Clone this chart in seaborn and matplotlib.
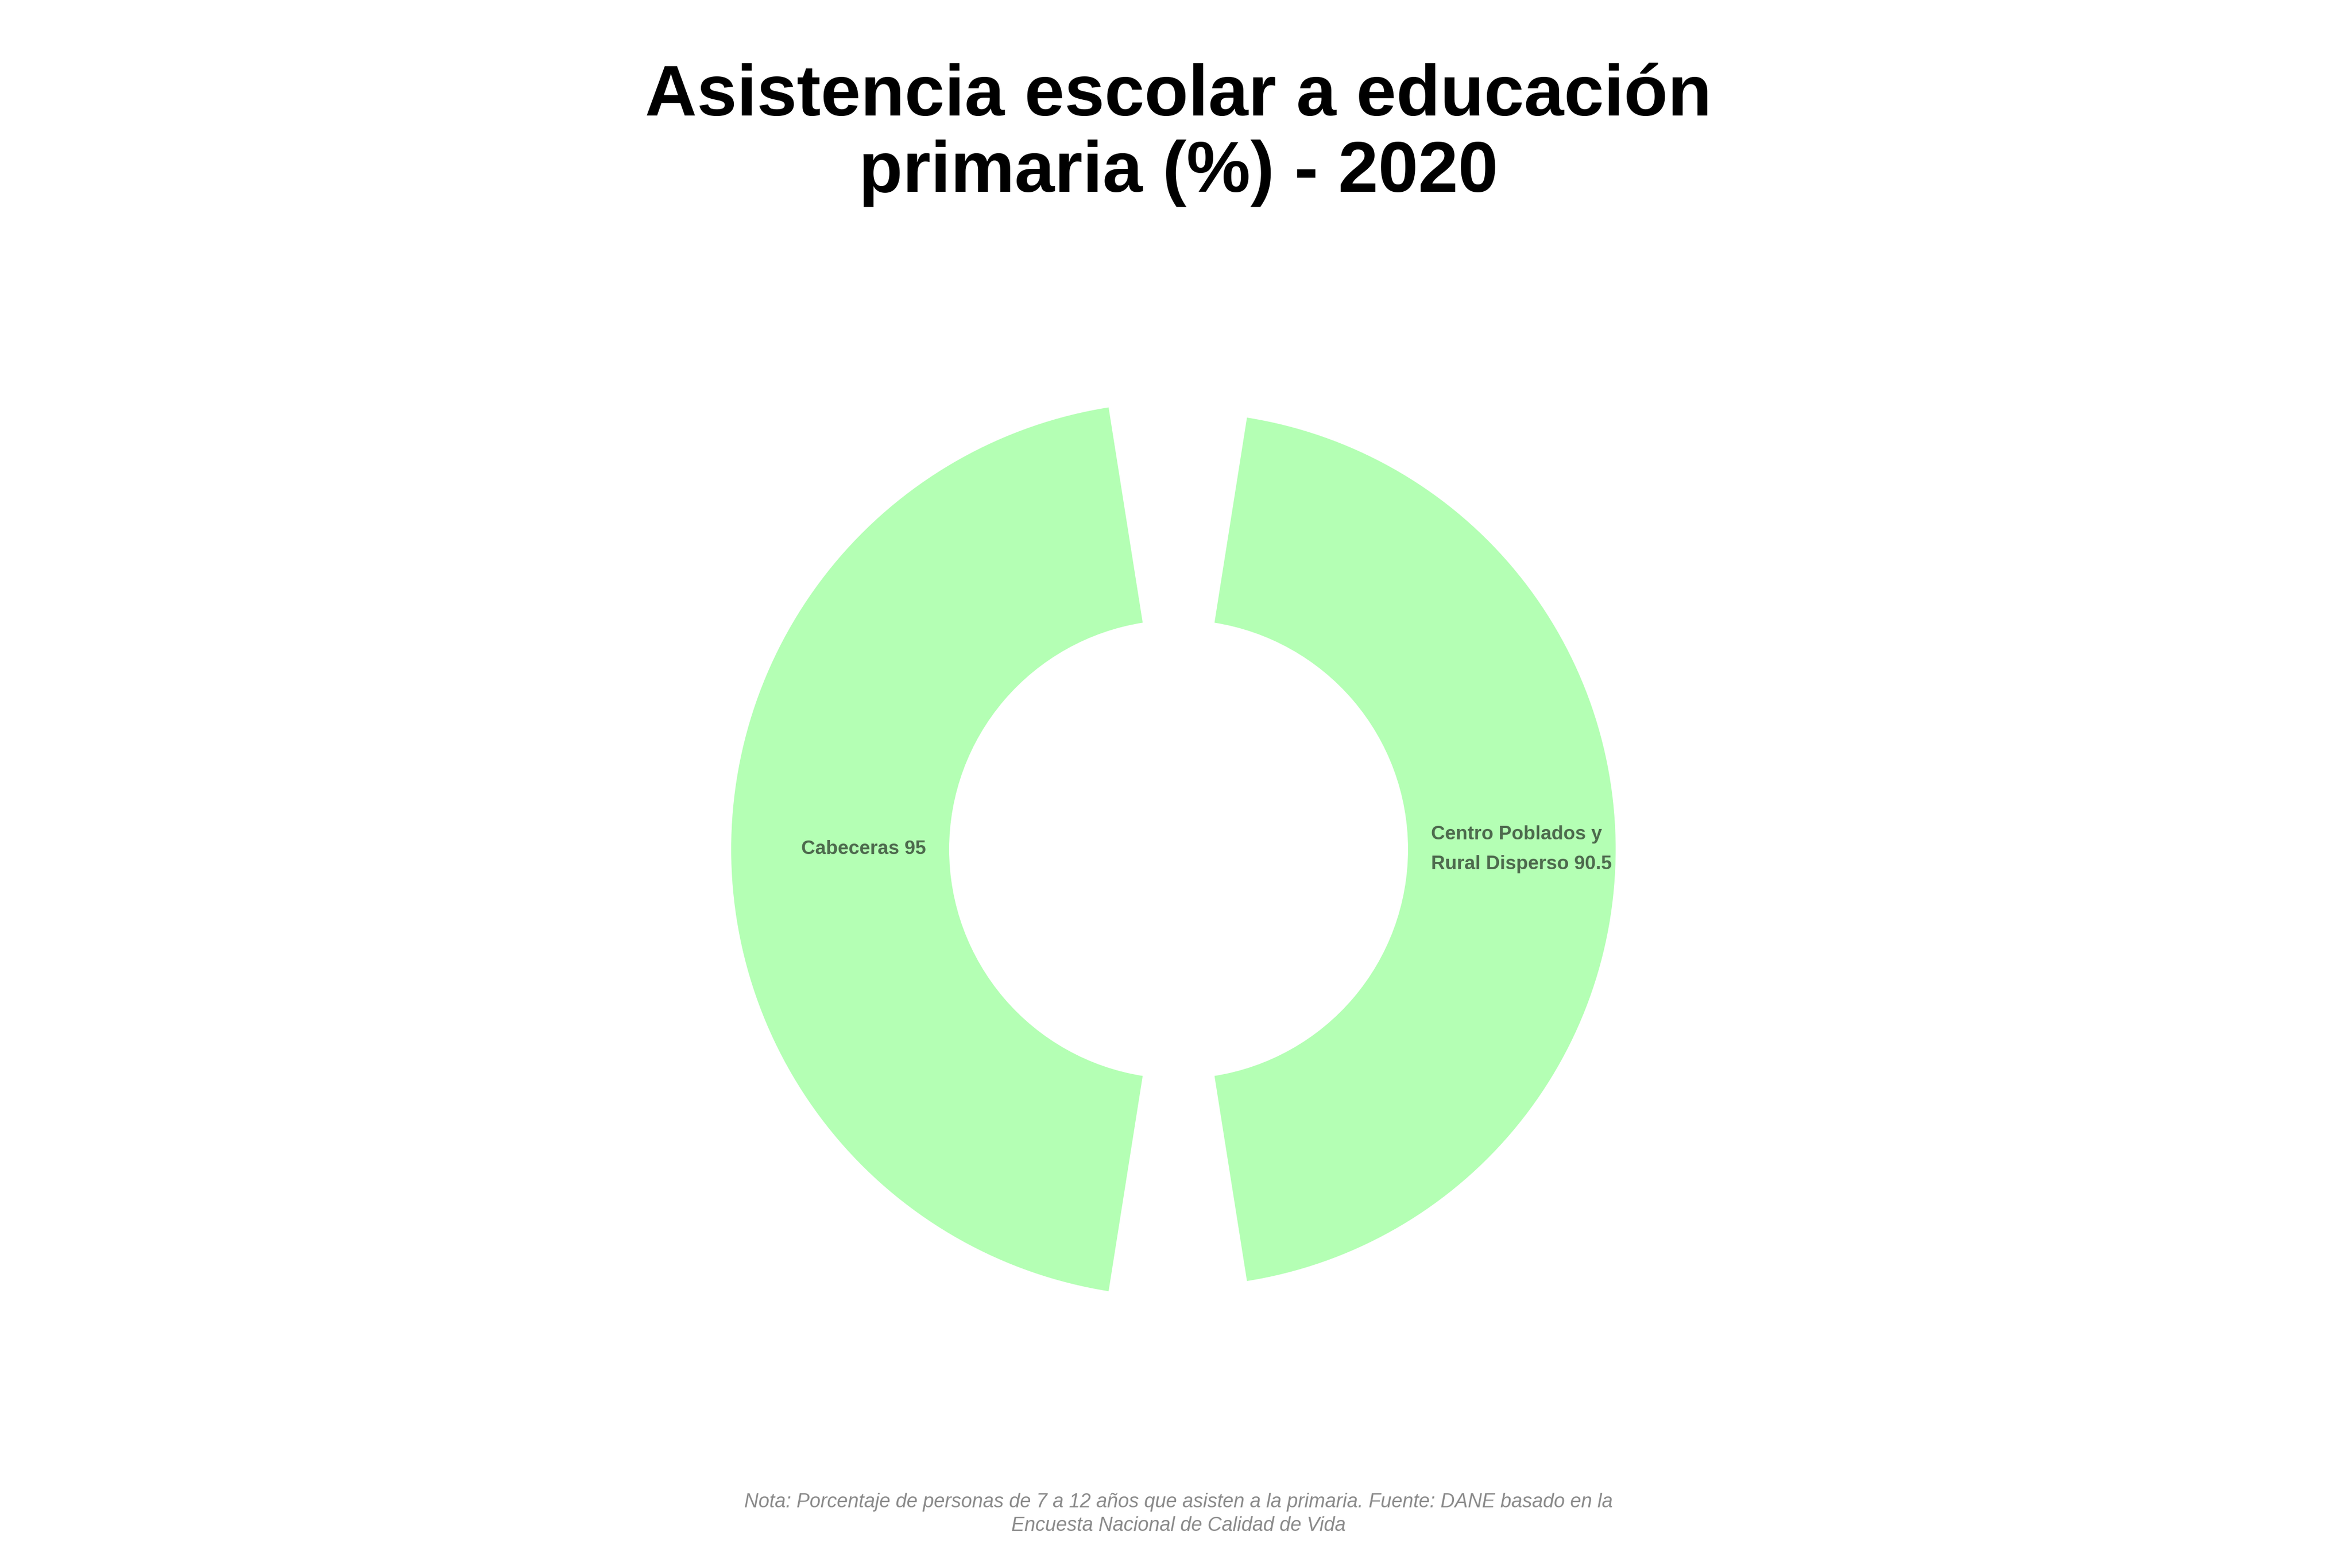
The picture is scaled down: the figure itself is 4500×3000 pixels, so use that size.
import numpy as np
import seaborn as sns
import matplotlib.pyplot as plt

# datos
categorias = ['Cabeceras', 'Centro Poblados y\nRural Disperso']
valores = [95, 90.5]

titulo = 'Asistencia escolar a educación\nprimaria (%) - 2020'
nota = ('Nota: Porcentaje de personas de 7 a 12 años que asisten a la primaria. Fuente: DANE basado en la\n'
        'Encuesta Nacional de Calidad de Vida')

sns.set_theme(style='white')
plt.rcParams['font.family'] = ['Liberation Sans', 'DejaVu Sans']

color_barra = '#b4ffb4'
color_texto = '#4d6a4d'

fig = plt.figure(figsize=(15, 10), dpi=300)
fig.patch.set_facecolor('white')

# eje polar: centro en (2255, 1625) px, radio 878 px
ax = fig.add_axes([0.306, 0.1657, 0.3902, 0.5853], projection='polar')
ax.set_theta_offset(np.pi)
ax.set_theta_direction(-1)

n = len(categorias)
angulos = np.linspace(0, 2 * np.pi, n, endpoint=False)
ancho = 2 * np.pi / n * 0.9
hueco = 100

ax.bar(angulos, valores, width=ancho, bottom=hueco, color=color_barra, linewidth=0, align='center')
ax.set_ylim(0, 200)
ax.set_axis_off()

for ang, cat, val in zip(angulos, categorias, valores):
    ha = 'right' if np.isclose(ang, 0) else 'left'
    ax.text(ang, hueco + 10, f'{cat} {val:g}', ha=ha, va='center', multialignment='left',
            fontsize=8.9, fontweight='bold', color=color_texto, linespacing=1.8)

fig.text(0.501, 0.914, titulo, ha='center', va='center', fontsize=33, fontweight='bold',
         color='black', linespacing=1.17)
fig.text(0.501, 0.0345, nota, ha='center', va='center', fontsize=9.0, style='italic',
         color='#8a8a8a', linespacing=1.35)

fig.savefig('out.png', dpi=300, facecolor='white')
